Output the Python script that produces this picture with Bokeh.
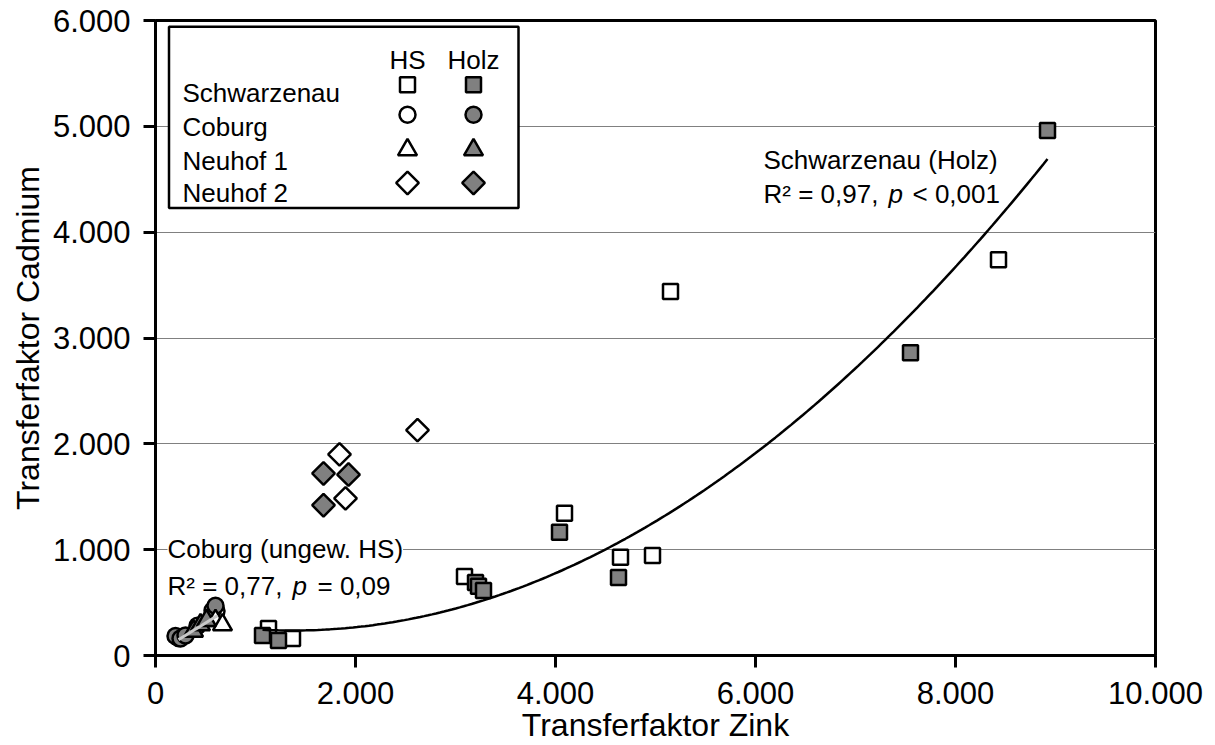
import numpy as np
from bokeh.plotting import figure
from bokeh.models import Label, FixedTicker, Range1d
from bokeh.embed import file_html
from bokeh.resources import INLINE

# ---------------- data ----------------
schw_hs_x = [1130, 1370, 3090, 4090, 4650, 4970, 5150, 8430]
schw_hs_y = [255, 160, 747, 1345, 928, 946, 3440, 3740]
schw_holz_x = [1070, 1230, 3200, 3230, 3280, 4040, 4630, 7550, 8920]
schw_holz_y = [190, 142, 690, 655, 615, 1165, 738, 2860, 4960]

cob_hs_x = [230, 420, 610]
cob_hs_y = [165, 280, 420]
cob_holz_x = [200, 250, 300, 570, 600]
cob_holz_y = [185, 160, 190, 425, 470]

n1_hs_x = [600, 670]
n1_hs_y = [330, 290]
n1_holz_x = [380, 450, 510]
n1_holz_y = [230, 290, 330]

n2_hs_x = [1840, 1900, 2620]
n2_hs_y = [1900, 1485, 2130]
n2_holz_x = [1680, 1930, 1680]
n2_holz_y = [1720, 1710, 1420]

# regression curves (coefficients, highest power first) and their x ranges
schw_fit_coef = [7.81e-5, -0.2136, 382.0]
schw_fit_range = [1070, 8920]
cob_fit_coef = [0.582, 16.0]
cob_fit_range = [230, 620]

x_ticks = [0, 2000, 4000, 6000, 8000, 10000]
x_tick_labels = ["0", "2.000", "4.000", "6.000", "8.000", "10.000"]
y_ticks = [0, 1000, 2000, 3000, 4000, 5000, 6000]
y_tick_labels = ["0", "1.000", "2.000", "3.000", "4.000", "5.000", "6.000"]

legend_rows = ["Schwarzenau", "Coburg", "Neuhof 1", "Neuhof 2"]
legend_cols = ["HS", "Holz"]

# ---------------- styling ----------------
FONT = "Liberation Sans"
GRAY = "#808080"
SQ = dict(marker="square", size=15, line_color="black", line_width=2.5)
CI = dict(marker="circle", size=16, line_color="black", line_width=2.5)
TR = dict(marker="triangle", size=19, line_color="black", line_width=2.5)
DI = dict(marker="square", size=16, angle=np.pi / 4, line_color="black", line_width=2.5)

p = figure(width=1215, height=745, output_backend="svg", toolbar_location=None,
           x_range=Range1d(0, 10000), y_range=Range1d(0, 6000),
           min_border_left=155, min_border_right=60, min_border_top=20, min_border_bottom=90)
p.background_fill_color = "white"
p.border_fill_color = "white"
p.outline_line_color = "black"
p.outline_line_width = 3

p.xgrid.grid_line_color = None
p.ygrid.grid_line_color = GRAY
p.ygrid.grid_line_width = 1

for ax, ticks, labels in ((p.xaxis, x_ticks, x_tick_labels), (p.yaxis, y_ticks, y_tick_labels)):
    ax.ticker = FixedTicker(ticks=ticks)
    ax.major_label_overrides = {t: l for t, l in zip(ticks, labels)}
    ax.axis_line_width = 3
    ax.major_tick_line_width = 3
    ax.major_tick_out = 12
    ax.major_tick_in = 0
    ax.minor_tick_line_color = None
    ax.major_label_text_font = FONT
    ax.major_label_text_font_size = "31px"
    ax.major_label_text_color = "black"
    ax.axis_label_text_font = FONT
    ax.axis_label_text_font_size = "32px"
    ax.axis_label_text_font_style = "normal"
    ax.axis_label_text_color = "black"
p.xaxis.major_label_standoff = 14
p.yaxis.major_label_standoff = 13

p.yaxis.axis_label = "Transferfaktor Cadmium"
p.yaxis.axis_label_standoff = 4
p.xaxis.axis_label = "Transferfaktor Zink"
p.xaxis.axis_label_standoff = 0

# ---------------- data markers ----------------
p.scatter(schw_hs_x, schw_hs_y, fill_color="white", **SQ)
p.scatter(schw_holz_x, schw_holz_y, fill_color=GRAY, **SQ)
p.scatter(cob_hs_x, cob_hs_y, fill_color="white", **CI)
p.scatter(cob_holz_x, cob_holz_y, fill_color=GRAY, **CI)
p.scatter(n1_hs_x, n1_hs_y, fill_color="white", **TR)
p.scatter(n1_holz_x, n1_holz_y, fill_color=GRAY, **TR)
p.scatter(n2_hs_x, n2_hs_y, fill_color="white", **DI)
p.scatter(n2_holz_x, n2_holz_y, fill_color=GRAY, **DI)

# ---------------- regression curves ----------------
xs = np.linspace(schw_fit_range[0], schw_fit_range[1], 200)
p.line(xs, np.polyval(schw_fit_coef, xs), line_color="black", line_width=2.5)
xc = np.linspace(cob_fit_range[0], cob_fit_range[1], 50)
p.line(xc, np.polyval(cob_fit_coef, xc), line_color="#c8c8c8", line_width=3)

# ---------------- annotations ----------------
def lab(x, y, text, xoff=0, style="normal", bg=None, size="26px"):
    p.add_layout(Label(x=x, y=y, x_offset=xoff, text=text, text_font=FONT,
                       text_font_size=size, text_font_style=style, text_color="black",
                       text_baseline="alphabetic", text_align="left",
                       background_fill_color=bg))

lab(120, 1010, "Coburg (ungew. HS)", bg="white")
lab(120, 660, "R\u00b2 = 0,77,")
lab(120, 660, "p", xoff=125, style="italic")
lab(120, 660, "= 0,09", xoff=150)

lab(6080, 4679, "Schwarzenau (Holz)")
lab(6080, 4358, "R\u00b2 = 0,97,")
lab(6080, 4358, "p", xoff=125, style="italic")
lab(6080, 4358, "< 0,001", xoff=149)

# ---------------- legend (drawn manually) ----------------
p.quad(left=[135], right=[3630], top=[5941], bottom=[4229],
       fill_color="white", line_color="black", line_width=2.5)
col_x = [2520, 3180]
row_y_text = [5314, 4995, 4674, 4371]
row_y_mark = [5393, 5109, 4778, 4465]
for cx, txt in zip(col_x, legend_cols):
    p.add_layout(Label(x=cx, y=5629, text=txt, text_font=FONT, text_font_size="26px",
                       text_color="black", text_align="center", text_baseline="alphabetic"))
for ry, txt in zip(row_y_text, legend_rows):
    p.add_layout(Label(x=270, y=ry, text=txt, text_font=FONT, text_font_size="26px",
                       text_color="black", text_align="left", text_baseline="alphabetic"))
for style, ry in zip((SQ, CI, TR, DI), row_y_mark):
    p.scatter([col_x[0]], [ry], fill_color="white", **style)
    p.scatter([col_x[1]], [ry], fill_color=GRAY, **style)

open("out.html", "w").write(file_html(p, INLINE))
